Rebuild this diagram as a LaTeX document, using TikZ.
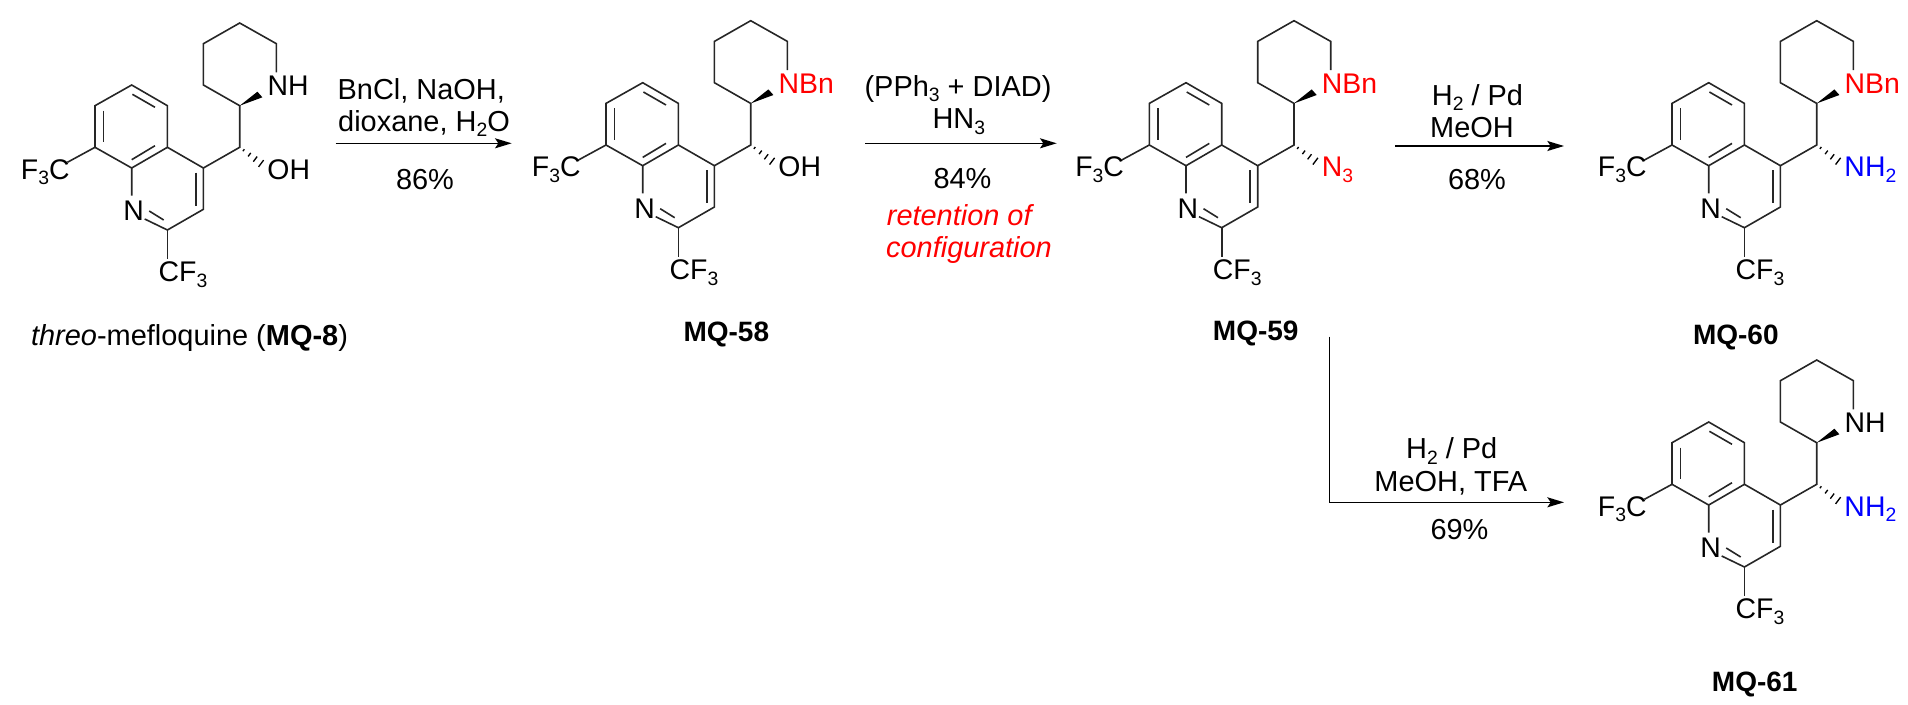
\documentclass[tikz,border=0pt]{standalone}
\usepackage{fontspec}
\setmainfont{Liberation Sans}
\usetikzlibrary{arrows.meta,calc}
\newcommand{\chsub}[1]{\raisebox{-4.3pt}{\fontsize{14.5}{14.5}\selectfont #1}}
\tikzset{
  bond/.style={line width=1.2pt,black!85},
  txt/.style={font=\fontsize{21.7}{25}\selectfont,inner sep=0pt,anchor=base},
  capt/.style={font=\fontsize{21}{25}\selectfont\bfseries,inner sep=0pt,anchor=base},
  atom/.style={font=\fontsize{21.3}{25}\selectfont,inner sep=0pt,anchor=base west},
  rxn/.style={line width=1.1pt,-{Stealth[length=12.5pt,width=7.5pt,inset=2.5pt]}},
  pics/mflq/.style 2 args={code={
    % quinoline ring atoms, piperidine atoms, bond ends
    \coordinate (-a) at (0,0);
    \coordinate (-b) at (35.7,20.7);
    \coordinate (-c) at (35.7,62.3);
    \coordinate (-d) at (0,83);
    \coordinate (-e) at (-36.7,62.3);
    \coordinate (-f) at (-36.7,20.7);
    \coordinate (-g) at (71.7,83);
    \coordinate (-h) at (71.7,124.3);
    \coordinate (-i) at (35.7,145);
    \coordinate (-ni) at (13,134);
    \coordinate (-no) at (0,110.7);
    \coordinate (-ch) at (108,62.3);
    \coordinate (-p) at (108,20.7);
    \coordinate (-q) at (71.7,0);
    \coordinate (-r) at (71.7,-41.3);
    \coordinate (-s) at (108,-62);
    \coordinate (-t) at (144.7,-41.3);
    \coordinate (-u) at (144.7,-12.7);
    \coordinate (-w1) at (125.7,6.7);
    \coordinate (-w2) at (130.7,12.3);
    \coordinate (-hs) at (132.3,80.7);
    \coordinate (-fl) at (-64.3,77.3);
    \coordinate (-fb) at (35.7,174);
    \draw[bond] (-no) -- (-d) -- (-e) -- (-f) -- (-a) -- (-b) -- (-c) -- (-d);
    \draw[bond] (-c) -- (-g) -- (-h) -- (-i) -- (-ni);
    \draw[bond] (-g) -- (-ch) -- (-p) -- (-q) -- (-r) -- (-s) -- (-t) -- (-u);
    \draw[bond] (-e) -- (-fl);
    \draw[bond] (-i) -- (-fb);
    % inner lines of the double bonds
    \draw[bond] (0.7,9.3) -- (23.3,22.3);
    \draw[bond] (-28.3,25.7) -- (-28.3,57);
    \draw[bond] (23.3,60.7) -- (0,74.7);
    \draw[bond] (64,87.7) -- (64,120.7);
    \draw[bond] (17.5,126) -- (32,135);
    % stereo bonds
    \fill[black] (-p) -- (-w1) -- (-w2) -- cycle;
    \foreach \p/\h in {0.16/1.2,0.4/2.2,0.64/3.2,0.88/4.2}
      \draw[line width=1pt] ($(-ch)!\p!(-hs)$) ++(-.6*\h,.8*\h) -- ++(1.2*\h,-1.6*\h);
    \node[atom] (-nq) at (-8.7,135.7) {N};
    \node[atom] (-cfa) at (-111,94) {F\chsub{3}C};
    \node[atom] (-cfb) at (26.7,196.7) {CF\chsub{3}};
    \node[atom] (-npip) at (135.7,10.9) {#1};
    \node[atom] (-sub) at (135.5,94) {#2};
  }}
}
\begin{document}
\begin{tikzpicture}[x=0.75pt,y=-0.75pt]
\useasboundingbox (0,0) rectangle (1908,704);
\pic (m8) at (131.7,85) {mflq={NH}{OH}};
\pic (m58) at (642.7,82.7) {mflq={\textcolor{red}{NBn}}{OH}};
\pic (m59) at (1186,82.7) {mflq={\textcolor{red}{NBn}}{\textcolor{red}{N\chsub{3}}}};
\pic (m60) at (1708.7,82.7) {mflq={\textcolor{red}{NBn}}{\textcolor{blue}{NH\chsub{2}}}};
\pic (m61) at (1708.7,422) {mflq={NH}{\textcolor{blue}{NH\chsub{2}}}};
% captions
\node[txt] (cap8) at (189.5,345) {\textit{threo}-mefloquine (\textbf{MQ-8})};
\node[capt] (cap58) at (726.3,341.7) {MQ-58};
\node[capt] (cap59) at (1255.7,340) {MQ-59};
\node[capt] (cap60) at (1735.8,344) {MQ-60};
\node[capt] (cap61) at (1754.7,691) {MQ-61};
% arrows
\coordinate (s1) at (335.7,143.3);
\coordinate (e1) at (511.7,143.3);
\coordinate (s2) at (865,143.3);
\coordinate (e2) at (1056.7,143.3);
\coordinate (s3) at (1395,146);
\coordinate (e3) at (1564,146);
\coordinate (s4) at (1329.3,336.7);
\coordinate (k4) at (1329.3,502.3);
\coordinate (e4) at (1564,502.3);
\draw[rxn] (s1) -- (e1);
\draw[rxn] (s2) -- (e2);
\draw[rxn] (s3) -- (e3);
\draw[rxn] (s4) -- (k4) -- (e4);
% conditions
\node[txt] (c1a) at (421.3,99) {BnCl, NaOH,};
\node[txt] (c1b) at (424,131) {dioxane, H\chsub{2}O};
\node[txt] (y1) at (425,189.3) {86\%};
\node[txt] (c2a) at (958,96) {(PPh\chsub{3} + DIAD)};
\node[txt] (c2b) at (958.8,128.3) {HN\chsub{3}};
\node[txt] (y2) at (962.5,188.3) {84\%};
\node[txt,red] (r2a) at (960.5,225.7) {\textit{retention of}};
\node[txt,red] (r2b) at (969,257.7) {\textit{configuration}};
\node[txt] (c3a) at (1477.5,105) {H\chsub{2} / Pd};
\node[txt] (c3b) at (1472,137.7) {MeOH};
\node[txt] (y3) at (1477,189) {68\%};
\node[txt] (c4a) at (1451.7,458.3) {H\chsub{2} / Pd};
\node[txt] (c4b) at (1450.8,491) {MeOH, TFA};
\node[txt] (y4) at (1459.5,539.3) {69\%};
\end{tikzpicture}
\end{document}
